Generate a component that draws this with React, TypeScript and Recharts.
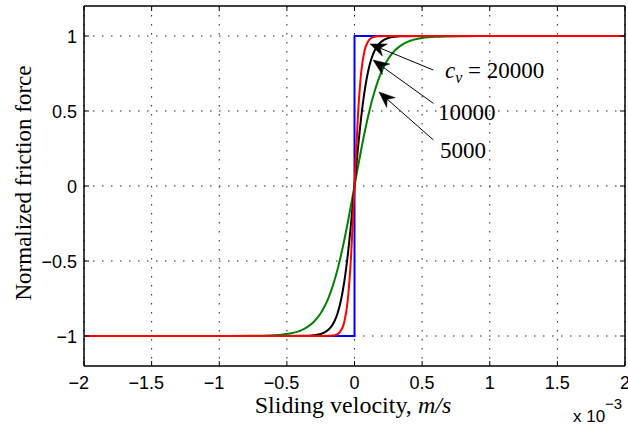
import React from "react";
import {
  LineChart,
  Line,
  XAxis,
  YAxis,
  CartesianGrid,
  ReferenceLine,
} from "recharts";

// sliding velocity, in units of 1e-3 m/s
const velocity = [
  -2, -1, -0.8, -0.6, -0.5, -0.4, -0.35, -0.3, -0.25, -0.2, -0.175, -0.15,
  -0.125, -0.1, -0.075, -0.05, -0.025, 0, 0.025, 0.05, 0.075, 0.1, 0.125,
  0.15, 0.175, 0.2, 0.25, 0.3, 0.35, 0.4, 0.5, 0.6, 0.8, 1, 2,
];

const friction5000 = [
  -1, -1, -0.999, -0.995, -0.987, -0.964, -0.941, -0.905, -0.848, -0.762,
  -0.704, -0.635, -0.555, -0.462, -0.358, -0.245, -0.124, 0, 0.124, 0.245,
  0.358, 0.462, 0.555, 0.635, 0.704, 0.762, 0.848, 0.905, 0.941, 0.964, 0.987,
  0.995, 0.999, 1, 1,
];

const friction10000 = [
  -1, -1, -1, -1, -1, -0.999, -0.998, -0.995, -0.987, -0.964, -0.941, -0.905,
  -0.848, -0.762, -0.635, -0.462, -0.245, 0, 0.245, 0.462, 0.635, 0.762,
  0.848, 0.905, 0.941, 0.964, 0.987, 0.995, 0.998, 0.999, 1, 1, 1, 1, 1,
];

const friction20000 = [
  -1, -1, -1, -1, -1, -1, -1, -1, -1, -0.999, -0.998, -0.995, -0.987, -0.964,
  -0.905, -0.762, -0.462, 0, 0.462, 0.762, 0.905, 0.964, 0.987, 0.995, 0.998,
  0.999, 1, 1, 1, 1, 1, 1, 1, 1, 1,
];

// ideal Coulomb friction (sign function)
const stepVelocity = [-2, 0, 0, 2];
const stepFriction = [-1, -1, 1, 1];

const xTicks = [-2, -1.5, -1, -0.5, 0, 0.5, 1, 1.5, 2];
const yTicks = [-1, -0.5, 0, 0.5, 1];

// annotation arrows: tail -> tip, in data units
const arrowTailX = [0.583, 0.583, 0.583];
const arrowTailY = [0.773, 0.551, 0.307];
const arrowTipX = [0.115, 0.137, 0.181];
const arrowTipY = [0.947, 0.84, 0.627];

const curveData = velocity.map((v, i) => ({
  x: v,
  c5000: friction5000[i],
  c10000: friction10000[i],
  c20000: friction20000[i],
}));

const stepData = stepVelocity.map((v, i) => ({ x: v, sign: stepFriction[i] }));

const TICK_FONT = "'Liberation Sans', Arial, sans-serif";
const LABEL_FONT = "'Liberation Serif', 'Times New Roman', serif";

const tickText = { fontFamily: TICK_FONT, fontSize: 18 };
const labelText = { fontFamily: LABEL_FONT, fontSize: 23 };

const fmt = (v: number) => (v < 0 ? "\u2212" + Math.abs(v) : String(v));

// approx width of the digits part at 18px (Arial metrics)
const digitsWidth = (s: string) =>
  s.split("").reduce((w, ch) => w + (ch === "." ? 5 : 10), 0);

const LeftTick = (props: any) => {
  const { x, y, payload } = props;
  return (
    <g>
      <line x1={x} y1={y} x2={x + 5} y2={y} stroke="#000" />
      <text x={x - 7} y={y + 7} textAnchor="end" style={tickText} fill="#000">
        {fmt(payload.value)}
      </text>
    </g>
  );
};

const RightTick = (props: any) => {
  const { x, y } = props;
  return <line x1={x} y1={y} x2={x - 5} y2={y} stroke="#000" />;
};

// label centred on the digits, minus sign hangs to the left
const BottomTick = (props: any) => {
  const { x, y, payload } = props;
  const v: number = payload.value;
  const digits = String(Math.abs(v));
  return (
    <g>
      <line x1={x} y1={y} x2={x} y2={y - 5} stroke="#000" />
      <text x={x} y={y + 23} textAnchor="middle" style={tickText} fill="#000">
        {digits}
      </text>
      {v < 0 && (
        <text
          x={x - digitsWidth(digits) / 2}
          y={y + 23}
          textAnchor="end"
          style={tickText}
          fill="#000"
        >
          {"\u2212"}
        </text>
      )}
    </g>
  );
};

const TopTick = (props: any) => {
  const { x, y } = props;
  return <line x1={x} y1={y} x2={x} y2={y + 5} stroke="#000" />;
};

const ArrowShape = (props: any) => {
  const { x1, y1, x2, y2 } = props;
  const dx = x2 - x1;
  const dy = y2 - y1;
  const len = Math.hypot(dx, dy) || 1;
  const ux = dx / len;
  const uy = dy / len;
  const px = -uy;
  const py = ux;
  const L = 16;
  const W = 6.5;
  const N = 5;
  const bx = x2 - ux * L;
  const by = y2 - uy * L;
  const nx = x2 - ux * (L - N);
  const ny = y2 - uy * (L - N);
  const pts = [
    [x2, y2],
    [bx + px * W, by + py * W],
    [nx, ny],
    [bx - px * W, by - py * W],
  ]
    .map((p) => p.join(","))
    .join(" ");
  return (
    <g>
      <line x1={x1} y1={y1} x2={nx} y2={ny} stroke="#000" strokeWidth={1} />
      <polygon points={pts} fill="#000" stroke="#000" strokeWidth={0.5} />
    </g>
  );
};

export default function App() {
  return (
    <div style={{ position: "absolute", left: 0, top: 0 }}>
      <LineChart
        width={628}
        height={427}
        data={curveData}
        margin={{ top: 5, right: 2, bottom: 60, left: 83 }}
      >
        <CartesianGrid
          stroke="#222"
          strokeDasharray="1.5 7.5"
          horizontalValues={yTicks}
          verticalValues={xTicks}
        />
        <XAxis
          dataKey="x"
          type="number"
          domain={[-2, 2]}
          ticks={xTicks}
          interval={0}
          height={1}
          tickSize={0}
          tickMargin={0}
          tickLine={false}
          axisLine={{ stroke: "#000", strokeWidth: 1.5 }}
          tick={<BottomTick />}
          allowDataOverflow
        />
        <XAxis
          xAxisId="top"
          orientation="top"
          dataKey="x"
          type="number"
          domain={[-2, 2]}
          ticks={xTicks}
          interval={0}
          height={1}
          tickSize={0}
          tickMargin={0}
          tickLine={false}
          axisLine={{ stroke: "#000", strokeWidth: 1.5 }}
          tick={<TopTick />}
          allowDataOverflow
        />
        <YAxis
          type="number"
          domain={[-1.2, 1.2]}
          ticks={yTicks}
          interval={0}
          width={1}
          tickSize={0}
          tickMargin={0}
          tickLine={false}
          axisLine={{ stroke: "#000", strokeWidth: 1.5 }}
          tick={<LeftTick />}
          allowDataOverflow
        />
        <YAxis
          yAxisId="right"
          orientation="right"
          type="number"
          domain={[-1.2, 1.2]}
          ticks={yTicks}
          interval={0}
          width={1}
          tickSize={0}
          tickMargin={0}
          tickLine={false}
          axisLine={{ stroke: "#000", strokeWidth: 1.5 }}
          tick={<RightTick />}
          allowDataOverflow
        />

        <Line
          data={stepData}
          dataKey="sign"
          type="linear"
          stroke="#0000ff"
          strokeWidth={2}
          dot={false}
          activeDot={false}
          isAnimationActive={false}
        />
        <Line
          dataKey="c5000"
          type="monotone"
          stroke="#008000"
          strokeWidth={2}
          dot={false}
          activeDot={false}
          isAnimationActive={false}
        />
        <Line
          dataKey="c10000"
          type="monotone"
          stroke="#000000"
          strokeWidth={2}
          dot={false}
          activeDot={false}
          isAnimationActive={false}
        />
        <Line
          dataKey="c20000"
          type="monotone"
          stroke="#ff0000"
          strokeWidth={2}
          dot={false}
          activeDot={false}
          isAnimationActive={false}
        />

        {arrowTipX.map((tx, i) => (
          <ReferenceLine
            key={i}
            segment={[
              { x: arrowTailX[i], y: arrowTailY[i] },
              { x: tx, y: arrowTipY[i] },
            ]}
            shape={ArrowShape}
            ifOverflow="visible"
          />
        ))}

        <text style={labelText} fill="#000" x={445} y={78}>
          <tspan fontStyle="italic">c</tspan>
          <tspan fontStyle="italic" style={{ fontSize: 16 }} dy={5}>
            v
          </tspan>
          <tspan dy={-5}>{" = 20000"}</tspan>
        </text>
        <text style={labelText} fill="#000" x={438} y={120}>
          10000
        </text>
        <text style={labelText} fill="#000" x={440} y={158}>
          5000
        </text>

        <text
          style={{ fontFamily: LABEL_FONT, fontSize: 24 }}
          fill="#000"
          x={353}
          y={413}
          textAnchor="middle"
        >
          Sliding velocity, <tspan fontStyle="italic">m/s</tspan>
        </text>
        <text
          style={labelText}
          fill="#000"
          transform="rotate(-90)"
          x={-183}
          y={31}
          textAnchor="middle"
        >
          Normalized friction force
        </text>
        <text
          style={{ fontFamily: TICK_FONT, fontSize: 17 }}
          fill="#000"
          x={573}
          y={422}
        >
          x 10
        </text>
        <text
          style={{ fontFamily: TICK_FONT, fontSize: 15 }}
          fill="#000"
          x={605}
          y={409}
        >
          {"\u22123"}
        </text>
      </LineChart>
    </div>
  );
}
